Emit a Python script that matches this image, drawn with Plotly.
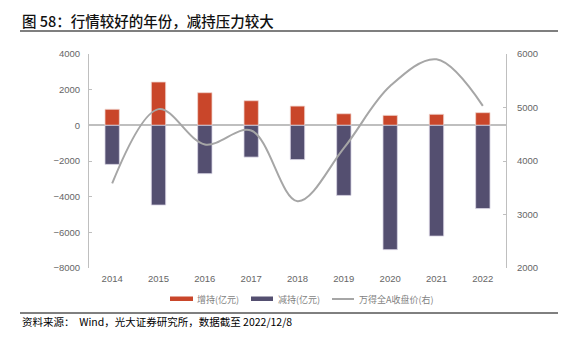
import plotly.graph_objects as go

# 年份与数据
years = ["2014", "2015", "2016", "2017", "2018", "2019", "2020", "2021", "2022"]
increase = [900, 2430, 1830, 1380, 1080, 650, 560, 620, 710]          # 增持(亿元)
decrease = [-2190, -4470, -2710, -1780, -1920, -3930, -6970, -6210, -4670]  # 减持(亿元)
wind_a = [3580, 4970, 4310, 4570, 3250, 4240, 5400, 5900, 5030]      # 万得全A收盘价

ORANGE = "#C9462A"
PURPLE = "#544F70"
GREY_LINE = "#A6A6A6"
AXIS_GREY = "#BFBFBF"
TICK_FONT = dict(family="Liberation Sans, Arial, sans-serif", size=9.5, color="#666666")
CJK = "Noto Sans CJK SC"

W, H = 578, 342
L, R, T, B = 89, 72, 54, 74
PW, PH = W - L - R, H - T - B


def px_x(x):
    return (x - L) / PW


def px_y(y):
    return (H - B - y) / PH


fig = go.Figure()

fig.add_trace(go.Bar(
    x=years, y=increase, name="增持(亿元)", width=0.31,
    marker=dict(color=ORANGE, line=dict(color="#F0D6CF", width=0.8)),
    showlegend=False,
))
fig.add_trace(go.Bar(
    x=years, y=decrease, name="减持(亿元)", width=0.31,
    marker=dict(color=PURPLE, line=dict(color="#D9D6E4", width=0.8)),
    showlegend=False,
))
fig.add_trace(go.Scatter(
    x=years, y=wind_a, name="万得全A收盘价(右)", yaxis="y2",
    mode="lines", line=dict(color=GREY_LINE, width=2, shape="spline", smoothing=1.0),
    showlegend=False,
))

fig.update_layout(
    width=W, height=H, autosize=False,
    margin=dict(l=L, r=R, t=T, b=B),
    paper_bgcolor="white", plot_bgcolor="white",
    barmode="overlay",
    xaxis=dict(
        type="category", showgrid=False, showline=False, ticks="",
        tickfont=TICK_FONT, ticklabelstandoff=3,
    ),
    yaxis=dict(
        range=[-8000, 4000], dtick=2000, showgrid=False,
        showline=True, linecolor=AXIS_GREY, linewidth=1,
        ticks="inside", ticklen=3, tickcolor=AXIS_GREY,
        zeroline=True, zerolinecolor=AXIS_GREY, zerolinewidth=1.5,
        tickfont=TICK_FONT, ticklabelstandoff=6,
    ),
    yaxis2=dict(
        range=[2000, 6000], dtick=1000, overlaying="y", side="right",
        showgrid=False, zeroline=False,
        showline=True, linecolor=AXIS_GREY, linewidth=1,
        ticks="inside", ticklen=3, tickcolor=AXIS_GREY,
        tickfont=TICK_FONT, ticklabelstandoff=8,
    ),
)

shapes = []
annotations = []

# 标题与上下分隔线
annotations.append(dict(
    text="图 58：行情较好的年份，减持压力较大", xref="paper", yref="paper",
    x=px_x(20), y=px_y(20), xanchor="left", yanchor="middle", showarrow=False,
    font=dict(family=CJK, size=14.5, color="#111111", weight=500),
))
shapes.append(dict(type="line", xref="paper", yref="paper",
                   x0=px_x(20), x1=px_x(558), y0=px_y(31), y1=px_y(31),
                   line=dict(color="#000000", width=1.2)))
shapes.append(dict(type="line", xref="paper", yref="paper",
                   x0=px_x(20), x1=px_x(558), y0=px_y(313), y1=px_y(313),
                   line=dict(color="#000000", width=1)))
annotations.append(dict(
    text="资料来源：  Wind，光大证券研究所，数据截至 2022/12/8", xref="paper", yref="paper",
    x=px_x(20), y=px_y(321.5), xanchor="left", yanchor="middle", showarrow=False,
    font=dict(family=CJK, size=10.5, color="#000000"),
))

# 图例
legend_font = dict(family=CJK, size=9, color="#7F7F7F")
shapes.append(dict(type="rect", xref="paper", yref="paper",
                   x0=px_x(170), x1=px_x(193), y0=px_y(296.5), y1=px_y(301),
                   fillcolor=ORANGE, line=dict(width=0)))
annotations.append(dict(text="增持(亿元)", xref="paper", yref="paper",
                        x=px_x(195), y=px_y(299), xanchor="left", yanchor="middle",
                        showarrow=False, font=legend_font))
shapes.append(dict(type="rect", xref="paper", yref="paper",
                   x0=px_x(251), x1=px_x(273), y0=px_y(296.5), y1=px_y(301),
                   fillcolor=PURPLE, line=dict(width=0)))
annotations.append(dict(text="减持(亿元)", xref="paper", yref="paper",
                        x=px_x(276), y=px_y(299), xanchor="left", yanchor="middle",
                        showarrow=False, font=legend_font))
shapes.append(dict(type="line", xref="paper", yref="paper",
                   x0=px_x(332), x1=px_x(354), y0=px_y(299), y1=px_y(299),
                   line=dict(color=GREY_LINE, width=2)))
annotations.append(dict(text="万得全A收盘价(右)", xref="paper", yref="paper",
                        x=px_x(356.5), y=px_y(299), xanchor="left", yanchor="middle",
                        showarrow=False, font=legend_font))

fig.update_layout(shapes=shapes, annotations=annotations)

fig.write_html("out.html")
